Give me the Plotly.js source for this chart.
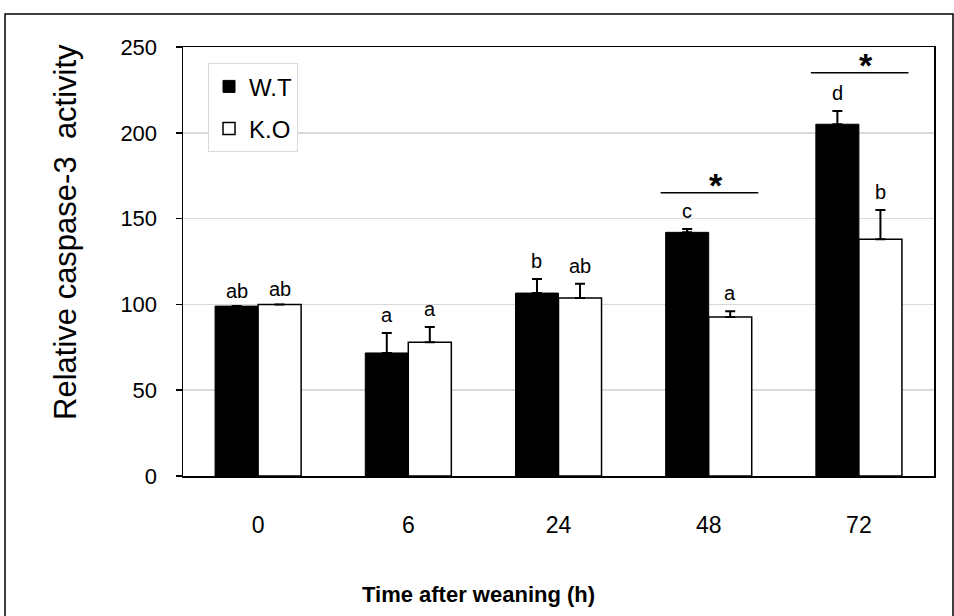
<!DOCTYPE html>
<html>
<head>
<meta charset="utf-8">
<script src="https://cdn.plot.ly/plotly-3.0.1.min.js"></script>
<style>html,body{margin:0;padding:0;background:#fff;}#chart{width:954px;height:616px;}</style>
</head>
<body>
<div id="chart"></div>
<script>
const categories = ['0', '6', '24', '48', '72'];
const wtValues = [99, 71.7, 106.6, 142, 205];
const wtErrors = [0, 11.6, 8.2, 2, 7.7];
const koValues = [100, 78, 103.7, 92.6, 138];
const koErrors = [0, 8.8, 8.3, 3.4, 17];
const wtLetters = ['ab', 'a', 'b', 'c', 'd'];
const koLetters = ['ab', 'a', 'ab', 'a', 'b'];
const sigCategories = ['48', '72'];
const sigLevels = [165, 235];
const yTicks = [0, 50, 100, 150, 200, 250];

const FONT = '"Liberation Sans", Arial, sans-serif';
const zeros = categories.map(() => 0);

const wt = {
  type: 'bar', name: 'W.T', x: categories, y: wtValues, legendgroup: 'g1',
  marker: {color: '#000000', line: {color: '#000000', width: 1}},
  error_y: {type: 'data', symmetric: false, array: wtErrors, arrayminus: zeros, color: '#000', thickness: 2, width: 5},
  hoverinfo: 'none'
};
const ko = {
  type: 'bar', name: 'K.O', x: categories, y: koValues, legendgroup: 'g2',
  marker: {color: '#ffffff', line: {color: '#000000', width: 1.5}},
  error_y: {type: 'data', symmetric: false, array: koErrors, arrayminus: zeros, color: '#000', thickness: 2, width: 5},
  hoverinfo: 'none'
};

const barOffset = 0.1433;
const annotations = [];
categories.forEach((c, i) => {
  annotations.push({x: i - barOffset, y: wtValues[i] + wtErrors[i], xref: 'x', yref: 'y', text: wtLetters[i],
    showarrow: false, yanchor: 'bottom', yshift: wtErrors[i] > 0 ? 5 : 2, font: {family: FONT, size: 20, color: '#000'}});
  annotations.push({x: i + barOffset, y: koValues[i] + koErrors[i], xref: 'x', yref: 'y', text: koLetters[i],
    showarrow: false, yanchor: 'bottom', yshift: koErrors[i] > 0 ? 5 : 2, font: {family: FONT, size: 20, color: '#000'}});
});
const shapes = [];
sigCategories.forEach((c, k) => {
  const i = categories.indexOf(c);
  shapes.push({type: 'line', xref: 'x', yref: 'y', x0: i - 0.32, x1: i + 0.33, y0: sigLevels[k], y1: sigLevels[k],
    line: {color: '#000', width: 1.5}});
  annotations.push({x: i + 0.05, y: sigLevels[k], xref: 'x', yref: 'y', text: '<b>*</b>', showarrow: false,
    yanchor: 'bottom', yshift: -13, font: {family: FONT, size: 34, color: '#000'}});
});
// outer frame
shapes.push({type: 'rect', xref: 'paper', yref: 'paper', x0: -0.2370, x1: 1.0253, y0: -0.34, y1: 1.0769,
  line: {color: '#000', width: 1.5}, fillcolor: 'rgba(0,0,0,0)', layer: 'below'});

annotations.push({xref: 'paper', yref: 'paper', x: -0.1558, y: 0.5688, text: 'Relative caspase-3  activity',
  textangle: -90, showarrow: false, xanchor: 'center', yanchor: 'middle', font: {family: FONT, size: 31, color: '#000'}});
annotations.push({xref: 'paper', yref: 'paper', x: 0.394, y: -0.277, text: '<b>Time after weaning (h)</b>',
  showarrow: false, xanchor: 'center', yanchor: 'middle', font: {family: FONT, size: 22, color: '#000'}});

const layout = {
  width: 954, height: 616,
  margin: {l: 183, r: 20, t: 47, b: 140},
  paper_bgcolor: '#fff', plot_bgcolor: '#fff',
  barmode: 'group', bargap: 0.427, bargroupgap: 0,
  showlegend: true,
  legend: {x: 0.0333, y: 0.962, xanchor: 'left', yanchor: 'top', bgcolor: '#fff', bordercolor: '#d9d9d9', borderwidth: 1,
    font: {family: FONT, size: 24, color: '#000'}, traceorder: 'grouped', tracegroupgap: 8, itemwidth: 30},
  xaxis: {type: 'category', categoryarray: categories, showline: true, linecolor: '#000', linewidth: 1.5, mirror: true,
    ticks: '', showgrid: false, zeroline: false, ticklabelstandoff: 28,
    tickfont: {family: FONT, size: 23, color: '#000'}},
  yaxis: {range: [0, 250], tickvals: yTicks, ticktext: yTicks.map(String), showline: true, linecolor: '#000', linewidth: 1.5,
    mirror: true, ticks: 'outside', ticklen: 6, tickcolor: '#000', tickwidth: 1.5, showgrid: true, gridcolor: '#d9d9d9',
    gridwidth: 1.5, zeroline: false, ticklabelstandoff: 14, tickfont: {family: FONT, size: 22, color: '#000'}},
  annotations: annotations,
  shapes: shapes,
  font: {family: FONT, color: '#000'}
};

Plotly.newPlot('chart', [wt, ko], layout, {displayModeBar: false, staticPlot: true});
</script>
</body>
</html>
